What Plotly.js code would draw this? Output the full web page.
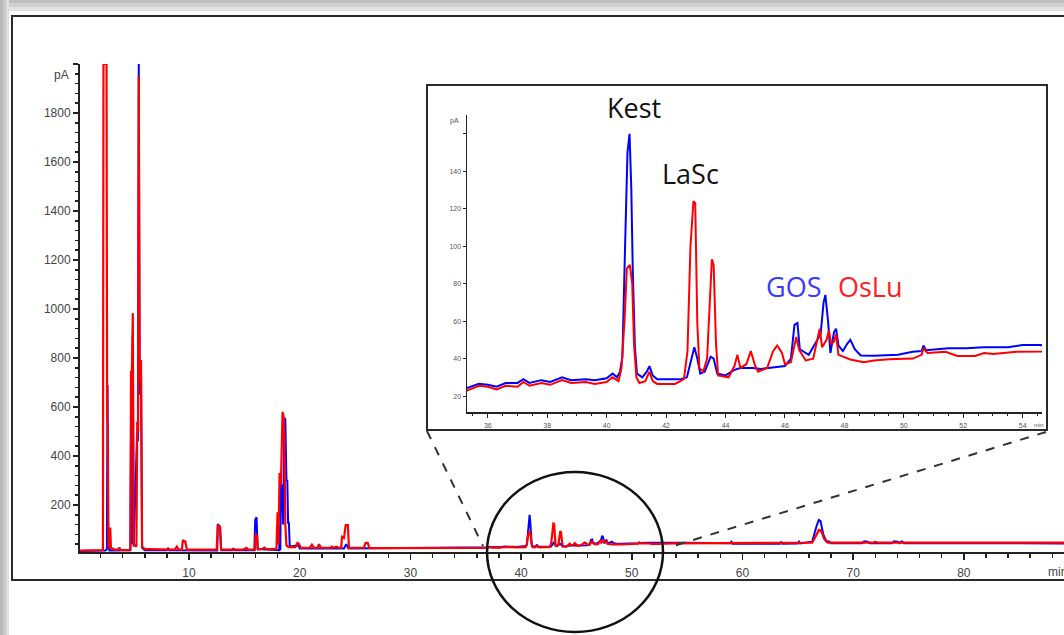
<!DOCTYPE html>
<html>
<head>
<meta charset="utf-8">
<script src="https://cdn.plot.ly/plotly-3.0.1.min.js"></script>
<style>
html,body{margin:0;padding:0;background:#fff;}
#chart{width:1064px;height:635px;}
</style>
</head>
<body>
<div id="chart"></div>
<script>
// ---------- DATA (retention time in min, signal in pA) ----------
// GOS chromatogram (blue)
const gosTime = [
  0.15, 2.2, 2.45, 2.58, 2.64, 2.70, 2.8, 3.05, 3.1, 3.2,
  4.7, 4.78, 4.85, 4.92, 5.0, 5.3, 5.38, 5.46, 5.54, 5.66, 5.76, 6.0,
  8.0, 8.1, 8.2, 12.55, 12.6, 12.8, 12.9, 13.9, 14.0, 14.1,
  15.9, 15.98, 16.1, 16.2, 18.15, 18.2, 18.25, 18.3, 18.4, 18.5, 18.62, 18.7,
  18.8, 18.88, 18.95, 19.02, 19.1, 19.9, 20.0, 24.0, 24.2, 24.4, 30.0, 34.0,
  35.3, 35.7, 36.0, 36.3, 36.6, 37.0, 37.2, 37.4, 37.8, 38.1, 38.5, 38.8,
  39.3, 39.6, 40.0, 40.2, 40.35, 40.45, 40.53, 40.62, 40.7, 40.77, 40.83, 40.88,
  40.95, 41.02, 41.2, 41.35, 41.44, 41.55, 41.7, 42.0, 42.5, 42.7, 42.85, 42.95,
  43.05, 43.15, 43.3, 43.5, 43.6, 43.72, 44.0, 44.3, 44.5, 44.9, 45.2, 45.5,
  46.0, 46.2, 46.32, 46.42, 46.5, 46.8, 47.1, 47.2, 47.3, 47.36, 47.45, 47.53,
  47.65, 47.72, 47.8, 47.95, 48.1, 48.2, 48.35, 48.55, 49.0, 49.8, 50.3, 50.6,
  50.66, 50.75, 51.5, 52.1, 52.7, 53.5, 54.0, 54.6,
  55.0, 58.9, 59.0, 59.1, 63.4, 63.5, 63.6, 65.0, 65.1, 65.2, 66.3, 66.7,
  66.9, 67.05, 67.3, 67.6, 67.8, 68.0, 70.8, 71.0, 71.3, 71.5, 73.5, 73.7,
  74.0, 74.2, 74.4, 74.6, 89.2
];
const gosSignal = [
  12, 13, 14, 20, 690, 40, 14, 14, 25, 14,
  15, 700, 40, 900, 30, 480, 460, 2000, 650, 760, 25, 15,
  15, 25, 15, 14, 122, 110, 15, 15, 24, 15,
  15, 140, 150, 20, 15, 120, 15, 282, 280, 120, 555, 550,
  302, 300, 127, 127, 30, 35, 22, 22, 40, 22, 23, 24,
  24.3, 26.5, 26, 25, 27, 27, 29, 27, 28.5, 27.5, 30, 28.5,
  29, 28.5, 29.5, 32, 30, 33, 41, 100, 150, 160, 130, 86,
  46, 32, 30, 33, 36, 31, 29, 29, 29, 30, 40, 46,
  40, 32, 33, 41, 40, 32, 31, 34, 35, 35, 34.5, 35,
  36, 40, 58, 59, 45, 42, 50, 53, 70, 74, 60, 43,
  54, 56, 47, 44, 48, 50, 45, 41.7, 41.5, 42, 43.6, 44,
  47, 44.5, 45.5, 45.5, 46, 46, 47.2, 47.2,
  46, 44, 50, 42, 42, 50, 42, 43, 50, 43, 50, 115,
  139, 135, 80, 50, 52, 44, 44, 52, 50, 44, 44, 52,
  50, 44, 52, 44, 43
];

// OsLu chromatogram (red)
const osluTime = [
  0.15, 1.0, 2.0, 2.22, 2.27, 2.55, 2.60, 2.66, 2.72, 2.82, 2.88, 2.95,
  3.3, 3.6, 3.7, 3.8, 4.6, 4.70, 4.76, 4.84, 4.92, 5.0, 5.25, 5.32,
  5.40, 5.46, 5.54, 5.66, 5.76, 6.0, 6.4, 7.5, 8.7, 8.9, 9.05, 9.35,
  9.45, 9.55, 9.65, 9.8, 12.5, 12.6, 12.8, 12.9, 14.9, 15.2, 15.35, 15.95,
  16.02, 16.15, 16.22, 16.6, 16.8, 17.0, 17.9, 18.0, 18.08, 18.18, 18.3, 18.45,
  18.55, 18.62, 18.7, 18.8, 19.0, 19.6, 19.8, 19.95, 20.1, 20.9, 21.1, 21.3,
  21.6, 21.75, 21.9, 22.8, 22.9, 23.0, 23.35, 23.5, 23.75, 23.82, 24.0, 24.15,
  24.35, 24.45, 25.8, 25.95, 26.15, 26.3, 28.0, 30.0, 32.0, 34.0,
  35.3, 35.7, 36.0, 36.3, 36.6, 37.0, 37.2, 37.4, 37.8, 38.1, 38.5, 38.8,
  39.3, 39.6, 40.0, 40.2, 40.4, 40.5, 40.6, 40.68, 40.78, 40.86, 40.92, 41.0,
  41.1, 41.3, 41.44, 41.55, 41.7, 42.3, 42.6, 42.72, 42.82, 42.92, 42.98, 43.05,
  43.12, 43.25, 43.38, 43.45, 43.54, 43.6, 43.68, 43.75, 44.1, 44.3, 44.4, 44.5,
  44.7, 44.85, 45.0, 45.1, 45.4, 45.6, 45.74, 45.9, 46.0, 46.2, 46.38, 46.48,
  46.7, 46.95, 47.1, 47.17, 47.25, 47.4, 47.48, 47.55, 47.65, 47.72, 47.8, 48.2,
  48.65, 49.0, 49.5, 50.3, 50.6, 50.66, 50.8, 51.4, 51.8, 52.4, 52.7, 53.0,
  53.8, 54.6,
  55.0, 60.0, 66.3, 66.6, 66.9, 67.1, 67.4, 67.7, 71.8, 72.0, 72.2, 89.2
];
const osluSignal = [
  14, 14, 15, 16, 2000, 2000, 560, 520, 30, 24, 108, 22,
  18, 18, 26, 17, 16, 18, 743, 743, 983, 40, 30, 540,
  500, 1950, 700, 792, 30, 20, 20, 18, 18, 30, 18, 18,
  58, 48, 55, 18, 18, 115, 112, 18, 18, 25, 18, 18,
  78, 75, 18, 20, 26, 20, 20, 170, 40, 330, 280, 580,
  560, 460, 120, 35, 28, 28, 45, 40, 25, 25, 38, 25,
  25, 40, 26, 25, 30, 25, 30, 25, 25, 70, 65, 118,
  118, 25, 26, 45, 45, 24, 24, 25, 24, 25,
  23, 25.5, 25, 23.5, 25.5, 25, 27.5, 25.5, 27, 26, 28.5, 27,
  27.5, 26.5, 27.5, 30, 28, 35, 60, 88, 90, 80, 48, 30,
  27, 28, 33, 28, 26.5, 26.5, 29, 44, 100, 124, 123, 59,
  35, 33, 40, 66, 93, 90, 48, 31, 30, 36, 42, 35,
  37, 44, 36, 33, 35, 44, 47, 43, 37, 38, 51.6, 44.5,
  39, 40, 52, 56, 46, 50, 55, 48, 49, 53, 42, 39.5,
  38, 39, 39.7, 40, 42, 45.5, 43, 43.6, 41.4, 41.4, 43, 42.5,
  43.6, 43.6,
  44, 45, 46, 70, 98, 95, 60, 46, 46, 50, 46, 46
];

// Tick labels
const mainXTickVals = [10, 20, 30, 40, 50, 60, 70, 80];
const mainYTickVals = [200, 400, 600, 800, 1000, 1200, 1400, 1600, 1800, 2000];
const mainYTickText = ['200', '400', '600', '800', '1000', '1200', '1400', '1600', '1800', ''];
const insetXTickVals = [36, 38, 40, 42, 44, 46, 48, 50, 52, 54];
const insetXTickText = ['36', '38', '40', '42', '44', '46', '48', '50', '52', '54'];
const insetYTickVals = [20, 40, 60, 80, 100, 120, 140, 160];
const insetYTickText = ['20', '40', '60', '80', '100', '120', '140', ''];

// ---------- LAYOUT HELPERS ----------
const W = 1064, H = 635;
const px = x => x / W;
const py = y => 1 - y / H;

const yMinor = [];
for (let v = 40; v < 2000; v += 40) { if (v % 200 !== 0) yMinor.push(v); }

const BLUE = '#0000ff', RED = '#ff0000', AX = '#222';

const traces = [
  {x: gosTime, y: gosSignal, xaxis: 'x', yaxis: 'y', type: 'scatter', mode: 'lines',
   line: {color: BLUE, width: 2}, hoverinfo: 'skip'},
  {x: osluTime, y: osluSignal, xaxis: 'x', yaxis: 'y', type: 'scatter', mode: 'lines',
   line: {color: RED, width: 2.2}, hoverinfo: 'skip'},
  {x: gosTime, y: gosSignal, xaxis: 'x2', yaxis: 'y2', type: 'scatter', mode: 'lines',
   line: {color: BLUE, width: 2}, hoverinfo: 'skip'},
  {x: osluTime, y: osluSignal, xaxis: 'x2', yaxis: 'y2', type: 'scatter', mode: 'lines',
   line: {color: RED, width: 2}, hoverinfo: 'skip'}
];

const tickFont = {family: 'Liberation Sans, Arial, sans-serif', size: 12, color: '#444'};
const smallFont = {family: 'Liberation Sans, Arial, sans-serif', size: 7, color: '#555'};

const layout = {
  width: W, height: H,
  margin: {l: 0, r: 0, t: 0, b: 0},
  paper_bgcolor: '#ffffff',
  plot_bgcolor: 'rgba(0,0,0,0)',
  showlegend: false,
  xaxis: {
    domain: [px(80), 1], range: [0.15, 89.05], anchor: 'y',
    showline: true, linecolor: AX, linewidth: 2,
    ticks: 'outside', ticklen: 6, tickwidth: 1.5, tickcolor: AX,
    tickvals: mainXTickVals, ticktext: mainXTickVals.map(String),
    minor: {dtick: 2, tick0: 0, ticks: 'outside', ticklen: 4, tickwidth: 1.5, tickcolor: AX},
    showgrid: false, zeroline: false, tickfont: tickFont, ticklabelstandoff: 3, fixedrange: true
  },
  yaxis: {
    domain: [py(552), py(64)], range: [8, 2000], anchor: 'x',
    showline: true, linecolor: AX, linewidth: 2,
    ticks: 'outside', ticklen: 5, tickwidth: 1.5, tickcolor: AX,
    tickmode: 'array', tickvals: mainYTickVals, ticktext: mainYTickText,
    minor: {tickmode: 'array', tickvals: yMinor, ticks: 'outside', ticklen: 3, tickwidth: 1.5, tickcolor: AX},
    showgrid: false, zeroline: false, tickfont: tickFont, fixedrange: true
  },
  xaxis2: {
    domain: [px(467), px(1042)], range: [35.3, 54.65], anchor: 'y2',
    showline: true, linecolor: AX, linewidth: 1.5,
    ticks: 'outside', ticklen: 4, tickwidth: 1, tickcolor: AX,
    tickmode: 'array', tickvals: insetXTickVals, ticktext: insetXTickText,
    minor: {dtick: 0.5, tick0: 0, ticks: 'outside', ticklen: 2, tickwidth: 1, tickcolor: AX},
    showgrid: false, zeroline: false, tickfont: smallFont, ticklabelstandoff: 2, fixedrange: true
  },
  yaxis2: {
    domain: [py(412), py(115)], range: [11.5, 170], anchor: 'x2',
    showline: true, linecolor: AX, linewidth: 1.5,
    ticks: 'outside', ticklen: 3, tickwidth: 1, tickcolor: AX,
    tickmode: 'array', tickvals: insetYTickVals, ticktext: insetYTickText,
    showgrid: false, zeroline: false, tickfont: smallFont, fixedrange: true
  },
  shapes: [
    // gray drop shadow along top and left edges
    {type: 'rect', xref: 'paper', yref: 'paper', x0: 0, x1: 1, y0: py(11), y1: 1, line: {width: 0}, fillcolor: '#e2e2e2', layer: 'below'},
    {type: 'rect', xref: 'paper', yref: 'paper', x0: 0, x1: 1, y0: py(7), y1: 1, line: {width: 0}, fillcolor: '#cfcfcf', layer: 'below'},
    {type: 'rect', xref: 'paper', yref: 'paper', x0: 0, x1: 1, y0: py(3), y1: 1, line: {width: 0}, fillcolor: '#bdbdbd', layer: 'below'},
    {type: 'rect', xref: 'paper', yref: 'paper', x0: 0, x1: px(9), y0: 0, y1: 1, line: {width: 0}, fillcolor: '#dedede', layer: 'below'},
    {type: 'rect', xref: 'paper', yref: 'paper', x0: 0, x1: px(6), y0: 0, y1: 1, line: {width: 0}, fillcolor: '#c9c9c9', layer: 'below'},
    {type: 'rect', xref: 'paper', yref: 'paper', x0: 0, x1: px(3), y0: 0, y1: 1, line: {width: 0}, fillcolor: '#b8b8b8', layer: 'below'},
    // outer frame
    {type: 'rect', xref: 'paper', yref: 'paper', x0: px(12), x1: px(1080), y0: py(580), y1: py(16),
     line: {color: '#2a2a2a', width: 2}, fillcolor: '#ffffff', layer: 'below'},
    // inset box
    {type: 'rect', xref: 'paper', yref: 'paper', x0: px(427), x1: px(1047), y0: py(430), y1: py(85),
     line: {color: '#2a2a2a', width: 2}, fillcolor: '#ffffff', layer: 'below'},
    // dashed zoom lines
    {type: 'line', xref: 'paper', yref: 'paper', x0: px(427), y0: py(431), x1: px(483), y1: py(546),
     line: {color: '#333', width: 2, dash: 'dash'}},
    {type: 'line', xref: 'paper', yref: 'paper', x0: px(1046), y0: py(432), x1: px(670), y1: py(547),
     line: {color: '#333', width: 2, dash: 'dash'}},
    // circle marking the zoomed region
    {type: 'circle', xref: 'paper', yref: 'paper', x0: px(487), x1: px(663), y0: py(632), y1: py(472),
     line: {color: '#111', width: 2.5}}
  ],
  annotations: [
    {xref: 'paper', yref: 'paper', x: px(71), y: py(75), text: 'pA', showarrow: false,
     xanchor: 'right', yanchor: 'middle', font: tickFont},
    {xref: 'paper', yref: 'paper', x: px(1046), y: py(572), text: 'min', showarrow: false,
     xanchor: 'left', yanchor: 'middle', font: tickFont},
    {xref: 'paper', yref: 'paper', x: px(461), y: py(121), text: 'pA', showarrow: false,
     xanchor: 'right', yanchor: 'middle', font: smallFont},
    {xref: 'paper', yref: 'paper', x: px(1032), y: py(425), text: 'min', showarrow: false,
     xanchor: 'left', yanchor: 'middle', font: {family: 'Liberation Sans, Arial, sans-serif', size: 6, color: '#555'}},
    {xref: 'paper', yref: 'paper', x: px(634), y: py(107), text: 'Kest', showarrow: false,
     xanchor: 'center', yanchor: 'middle', font: {family: 'Open Sans, sans-serif', size: 27, color: '#111'}},
    {xref: 'paper', yref: 'paper', x: px(690), y: py(173), text: 'LaSc', showarrow: false,
     xanchor: 'center', yanchor: 'middle', font: {family: 'Open Sans, sans-serif', size: 27, color: '#111'}},
    {xref: 'paper', yref: 'paper', x: px(793), y: py(287), text: 'GOS', showarrow: false,
     xanchor: 'center', yanchor: 'middle', font: {family: 'Open Sans, sans-serif', size: 27, color: '#3a3aff'}},
    {xref: 'paper', yref: 'paper', x: px(870), y: py(287), text: 'OsLu', showarrow: false,
     xanchor: 'center', yanchor: 'middle', font: {family: 'Open Sans, sans-serif', size: 27, color: '#ff2020'}}
  ]
};

Plotly.newPlot('chart', traces, layout, {staticPlot: true, displayModeBar: false});
</script>
</body>
</html>
